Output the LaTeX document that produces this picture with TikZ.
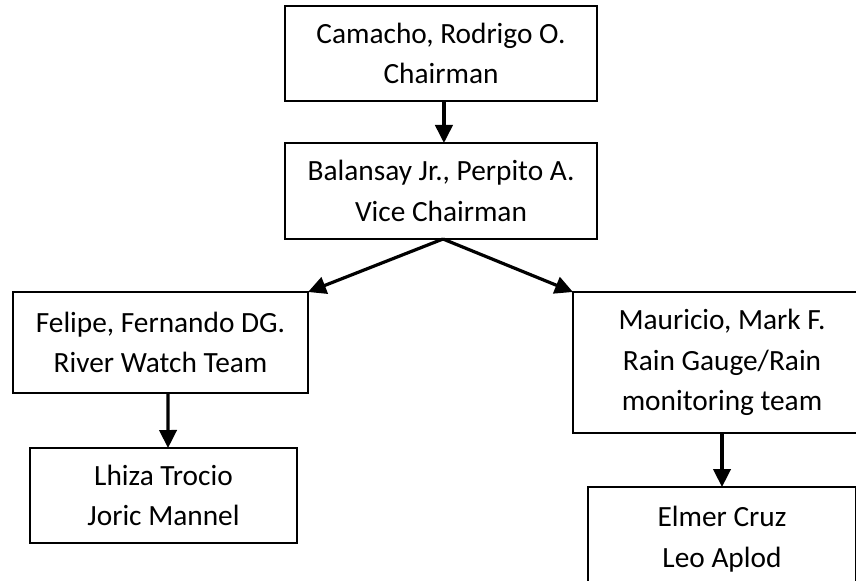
\documentclass[tikz,border=0pt]{standalone}
\usepackage{fontspec}
\setmainfont{Carlito}
\usetikzlibrary{arrows.meta}

\begin{document}
\begin{tikzpicture}[x=0.75pt,y=-0.75pt,
    box/.style={draw,line width=1.5pt,inner sep=0pt,outer sep=0pt,align=center,
      font=\fontsize{22pt}{30.5pt}\selectfont},
    link/.style={line width=2.4pt,-{Triangle[length=13.5pt,width=13pt]}}]
    \useasboundingbox (0,0) rectangle (856,581);
    \node[box,minimum width=234pt,minimum height=71.25pt] at (441,53.5) (chair) {Camacho, Rodrigo O.\\Chairman};
    \node[box,minimum width=234pt,minimum height=72pt] at (441,191) (vice) {Balansay Jr., Perpito A.\\Vice Chairman};
    \node[box,minimum width=221.25pt,minimum height=75.75pt] at (160.5,342.5) (river) {Felipe, Fernando DG.\\River Watch Team};
    \node[box,minimum width=223.5pt,minimum height=105.75pt] at (722,362.5) (rain) {Mauricio, Mark F.\\Rain Gauge/Rain\\monitoring team};
    \node[box,minimum width=200.25pt,minimum height=71.25pt] at (163.5,495.5) (rivercrew) {Lhiza Trocio\\Joric Mannel};
    \node[box,minimum width=201pt,minimum height=78pt] at (722,539) (raincrew) {Elmer Cruz\\Leo Aplod};

    \path[link] ([xshift=2.2pt]chair.south) edge ([xshift=2.2pt]vice.north);
    \path[link] ([xshift=1.5pt]vice.south) edge (river.north east);
    \path[link] ([xshift=1.5pt]vice.south) edge (rain.north west);
    \path[link] ([xshift=5.6pt]river.south) edge ([xshift=3.4pt]rivercrew.north);
    \path[link] (rain.south) edge (raincrew.north);
\end{tikzpicture}
\end{document}
